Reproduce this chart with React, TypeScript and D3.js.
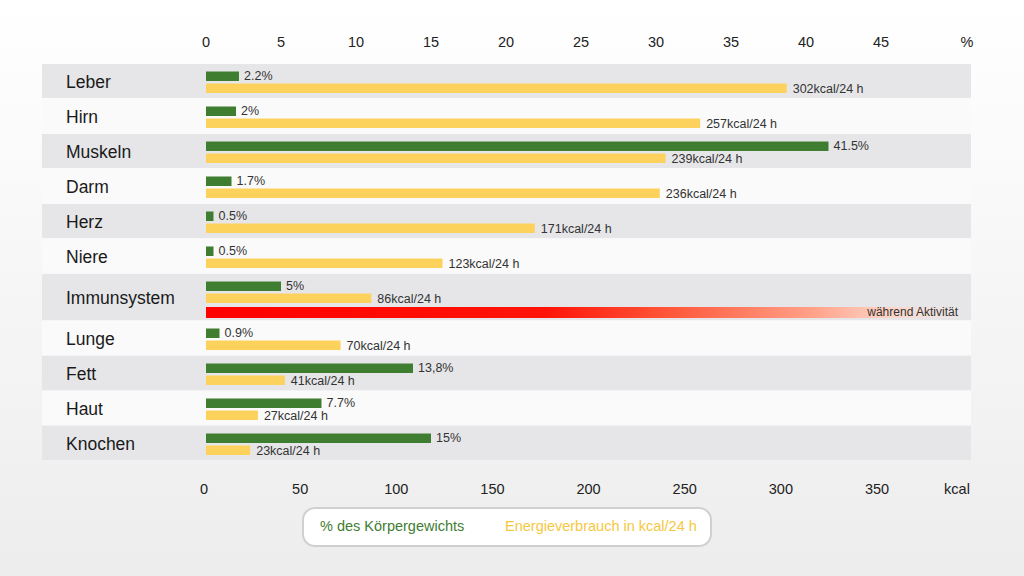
import { useMemo } from "react";
import * as d3 from "d3";

const organs = ["Leber", "Hirn", "Muskeln", "Darm", "Herz", "Niere", "Immunsystem", "Lunge", "Fett", "Haut", "Knochen"];
const bodyPct = [2.2, 2, 41.5, 1.7, 0.5, 0.5, 5, 0.9, 13.8, 7.7, 15];
const pctLabels = ["2.2%", "2%", "41.5%", "1.7%", "0.5%", "0.5%", "5%", "0.9%", "13,8%", "7.7%", "15%"];
const kcal = [302, 257, 239, 236, 171, 123, 86, 70, 41, 27, 23];
const pctTicks = [0, 5, 10, 15, 20, 25, 30, 35, 40, 45];
const kcalTicks = [0, 50, 100, 150, 200, 250, 300, 350];
const activityOrgan = "Immunsystem";
const activityLabel = "während Aktivität";

const W = 1024;
const H = 576;
const GREEN = "#3f7d31";
const YELLOW = "#fdd25c";
const FONT = "'Liberation Sans', Arial, Helvetica, sans-serif";

export default function App() {
  const x0 = 206;
  const xPct = d3.scaleLinear().domain([0, 45]).range([x0, 881]);
  const xKcal = d3.scaleLinear().domain([0, 350]).range([x0, 879]);

  // row layout: normal rows 35px, the activity row is taller
  const rows = useMemo(() => {
    let y = 64;
    return organs.map((name, i) => {
      const h = name === activityOrgan ? 47 : 35;
      const r = { name, i, top: y, h };
      y += h;
      return r;
    });
  }, []);
  const rowsBottom = rows[rows.length - 1].top + rows[rows.length - 1].h;

  return (
    <svg
      width={W}
      height={H}
      viewBox={`0 0 ${W} ${H}`}
      style={{ position: "absolute", left: 0, top: 0, display: "block" }}
      fontFamily={FONT}
    >
      <defs>
        <linearGradient id="bg" x1="0" y1="0" x2="0" y2="1">
          <stop offset="0" stopColor="#ffffff" />
          <stop offset="1" stopColor="#ededed" />
        </linearGradient>
        <linearGradient id="activity" x1="0" y1="0" x2="1" y2="0">
          <stop offset="0" stopColor="#ff0000" />
          <stop offset="0.45" stopColor="#ff1408" />
          <stop offset="0.62" stopColor="#ff5a3c" />
          <stop offset="0.8" stopColor="#ffa088" />
          <stop offset="0.9" stopColor="#ffd2c4" />
          <stop offset="1" stopColor="#f3e6e2" stopOpacity="0.3" />
        </linearGradient>
      </defs>
      <rect width={W} height={H} fill="url(#bg)" />

      {/* top axis (%) */}
      <g fontSize={14.5} fill="#222" textAnchor="middle">
        {pctTicks.map((t) => (
          <text key={t} x={xPct(t)} y={47}>
            {t}
          </text>
        ))}
        <text x={967} y={47}>%</text>
      </g>

      {/* row bands */}
      {rows.map((r) => (
        <rect
          key={r.name}
          x={42}
          y={r.top}
          width={929}
          height={r.h - 1}
          fill={r.i % 2 === 0 ? "#e6e6e8" : "#fafafa"}
        />
      ))}

      {rows.map((r) => {
        const gy = r.top + 7.5;
        const yy = r.top + 19.5;
        const bh = 9.5;
        const labelY = r.name === activityOrgan ? r.top + 25 : r.top + r.h / 2 + 1.5;
        return (
          <g key={r.name}>
            <text x={66} y={labelY} fontSize={17.5} fill="#1a1a1a" dominantBaseline="middle">
              {r.name}
            </text>
            <rect x={x0} y={gy} width={xPct(bodyPct[r.i]) - x0} height={bh} fill={GREEN} />
            <rect x={x0} y={yy} width={xKcal(kcal[r.i]) - x0} height={bh} fill={YELLOW} />
            <text
              x={xPct(bodyPct[r.i]) + 5}
              y={gy + bh / 2}
              fontSize={12.5}
              fill="#333"
              dominantBaseline="middle"
            >
              {pctLabels[r.i]}
            </text>
            <text
              x={xKcal(kcal[r.i]) + 6}
              y={yy + bh / 2 + 1}
              fontSize={12.5}
              fill="#333"
              dominantBaseline="middle"
            >
              {`${kcal[r.i]}kcal/24 h`}
            </text>
            {r.name === activityOrgan && (
              <>
                <rect x={x0} y={r.top + 33} width={962 - x0} height={11} fill="url(#activity)" />
                <text
                  x={958}
                  y={r.top + 39}
                  fontSize={12}
                  fill="#333"
                  textAnchor="end"
                  dominantBaseline="middle"
                >
                  {activityLabel}
                </text>
              </>
            )}
          </g>
        );
      })}

      {/* bottom axis (kcal) */}
      <g fontSize={14.5} fill="#222" textAnchor="middle">
        {kcalTicks.map((t) => (
          <text key={t} x={xKcal(t) - 2} y={rowsBottom + 33}>
            {t}
          </text>
        ))}
        <text x={957} y={rowsBottom + 33}>kcal</text>
      </g>

      {/* legend */}
      <rect x={303} y={508} width={408} height={38} rx={12} fill="#fff" stroke="#d0d0d0" strokeWidth={2} />
      <text x={320} y={527} fontSize={14.5} fill={GREEN} dominantBaseline="middle">
        % des Körpergewichts
      </text>
      <text x={505} y={527} fontSize={14.5} fill="#f5c842" dominantBaseline="middle">
        Energieverbrauch in kcal/24 h
      </text>
    </svg>
  );
}
